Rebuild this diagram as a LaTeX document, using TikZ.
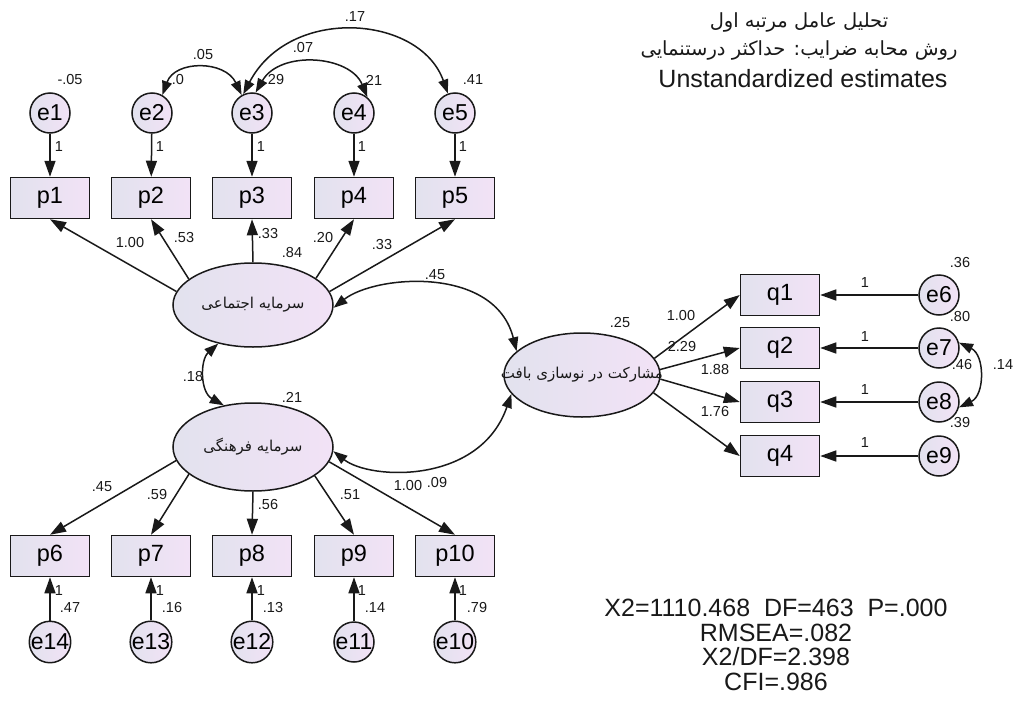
\documentclass[tikz,border=0pt]{standalone}
\usepackage{fontspec}
\setmainfont{Liberation Sans}
\newfontfamily\arabicfont[Script=Arabic]{DejaVu Sans}
\TeXXeTstate=1
\usetikzlibrary{arrows.meta,shapes.geometric}
\definecolor{boxL}{RGB}{226,226,238}
\definecolor{boxR}{RGB}{242,226,246}
\definecolor{ink}{RGB}{25,25,25}
\begin{document}
\begin{tikzpicture}[x=1pt,y=-1pt,
 obs/.style={draw=ink,line width=1.5pt,minimum width=79pt,minimum height=41pt,inner sep=0pt,left color=boxL,right color=boxR,font=\fontsize{23.5}{23.5}\selectfont},
 err/.style={circle,draw=ink,line width=1.5pt,minimum size=40pt,inner sep=0pt,left color=boxL,right color=boxR,font=\fontsize{23}{23}\selectfont},
 lat/.style={ellipse,draw=ink,line width=1.5pt,inner sep=0pt,left color=boxL,right color=boxR},
 lattext/.style={font=\arabicfont\fontsize{15}{15}\selectfont,inner sep=0pt,text=ink},
 lbl/.style={font=\fontsize{14.5}{15}\selectfont,inner sep=0pt,text=ink},
 big/.style={font=\fontsize{25}{24.7}\selectfont,inner sep=0pt,text=ink,align=center},
 ptitle/.style={font=\arabicfont\fontsize{19.5}{19.5}\selectfont,inner sep=0pt,text=ink},
 arr/.style={draw=ink,line width=1.5pt,-{Triangle[length=16pt,width=11pt]}},
 cov/.style={draw=ink,line width=1.5pt,{Triangle[length=14pt,width=10pt]}-{Triangle[length=14pt,width=10pt]}},
]
\useasboundingbox[fill=white] (0,0) rectangle (1013,707);

% titles
\node[ptitle] (title1) at (799,22) {\beginR تحلیل عامل مرتبه اول\endR};
\node[ptitle] (title2) at (799,50) {\beginR روش محابه ضرایب: حداکثر درستنمایی\endR};
\node[big] (title3) at (803,79) {Unstandardized estimates};
\node[big] (stats) at (776,645) {X2=1110.468\ \ DF=463\ \ P=.000\\RMSEA=.082\\X2/DF=2.398\\CFI=.986};

% latent variables
\node[lat,minimum width=160pt,minimum height=84pt] (s1) at (253,305) {};
\node[lattext] (t1) at (253,305) {\beginR سرمایه اجتماعی\endR};
\node[lat,minimum width=160pt,minimum height=88pt] (s2) at (253,447) {};
\node[lattext] (t2) at (253,447) {\beginR سرمایه فرهنگی\endR};
\node[lat,minimum width=156pt,minimum height=84pt] (s3) at (582,375) {};
\node[lattext] (t3) at (582,375) {\beginR مشارکت در نوسازی بافت\endR};

% top indicators
\node[err] (e1) at (50,113) {e1};
\node[err] (e2) at (152,113) {e2};
\node[err] (e3) at (252,113) {e3};
\node[err] (e4) at (354,113) {e4};
\node[err] (e5) at (455,113) {e5};
\node[obs] (p1) at (50,198) {p1};
\node[obs] (p2) at (151,198) {p2};
\node[obs] (p3) at (252,198) {p3};
\node[obs] (p4) at (354,198) {p4};
\node[obs] (p5) at (455,198) {p5};

% bottom indicators
\node[obs] (p6) at (50,556) {p6};
\node[obs] (p7) at (151,556) {p7};
\node[obs] (p8) at (252,556) {p8};
\node[obs] (p9) at (354,556) {p9};
\node[obs] (p10) at (455,556) {p10};
\node[err] (e14) at (50,642) {e14};
\node[err] (e13) at (151,642) {e13};
\node[err] (e12) at (252,642) {e12};
\node[err] (e11) at (354,642) {e11};
\node[err] (e10) at (455,642) {e10};

% right indicators
\node[obs] (q1) at (780,295) {q1};
\node[obs] (q2) at (780,348) {q2};
\node[obs] (q3) at (780,402) {q3};
\node[obs] (q4) at (780,456) {q4};
\node[err] (e6) at (939,295) {e6};
\node[err] (e7) at (939,348) {e7};
\node[err] (e8) at (939,402) {e8};
\node[err] (e9) at (939,456) {e9};

% labels
\node[lbl] (v1) at (70,80) {-.05};
\node[lbl] (v2) at (178,80) {.0};
\node[lbl] (v3) at (274,80) {.29};
\node[lbl] (v4) at (372,80) {.21};
\node[lbl] (v5) at (473,80) {.41};
\node[lbl] (c23) at (203,55) {.05};
\node[lbl] (c34) at (303,48) {.07};
\node[lbl] (c35) at (355,17) {.17};
\node[lbl] (w1) at (59,147) {1};
\node[lbl] (w2) at (160,147) {1};
\node[lbl] (w3) at (261,147) {1};
\node[lbl] (w4) at (362,147) {1};
\node[lbl] (w5) at (463,147) {1};
\node[lbl] (l1) at (130,243) {1.00};
\node[lbl] (l2) at (184,238) {.53};
\node[lbl] (l3) at (268,234) {.33};
\node[lbl] (l4) at (323,238) {.20};
\node[lbl] (l5) at (382,245) {.33};
\node[lbl] (vs1) at (292,253) {.84};
\node[lbl] (c13) at (435,275) {.45};
\node[lbl] (c12) at (193,377) {.18};
\node[lbl] (vs2) at (292,397) {.21};
\node[lbl] (vs3) at (620,323) {.25};
\node[lbl] (m1) at (681,316) {1.00};
\node[lbl] (m2) at (682,347) {2.29};
\node[lbl] (m3) at (715,370) {1.88};
\node[lbl] (m4) at (715,412) {1.76};
\node[lbl] (w6) at (865,283) {1};
\node[lbl] (w7) at (865,337) {1};
\node[lbl] (w8) at (865,390) {1};
\node[lbl] (w9) at (865,443) {1};
\node[lbl] (v6) at (960,263) {.36};
\node[lbl] (v7) at (960,317) {.80};
\node[lbl] (v8) at (962,365) {.46};
\node[lbl] (v9) at (960,423) {.39};
\node[lbl] (c78) at (1003,365) {.14};
\node[lbl] (k6) at (102,487) {.45};
\node[lbl] (k7) at (157,495) {.59};
\node[lbl] (k8) at (268,505) {.56};
\node[lbl] (k9) at (350,495) {.51};
\node[lbl] (k10) at (408,486) {1.00};
\node[lbl] (c23b) at (437,483) {.09};
\node[lbl] (w14) at (59,591) {1};
\node[lbl] (w13) at (160,591) {1};
\node[lbl] (w12) at (261,591) {1};
\node[lbl] (w11) at (362,591) {1};
\node[lbl] (w10) at (463,591) {1};
\node[lbl] (v14) at (70,608) {.47};
\node[lbl] (v13) at (172,608) {.16};
\node[lbl] (v12) at (273,608) {.13};
\node[lbl] (v11) at (375,608) {.14};
\node[lbl] (v10) at (477,608) {.79};

% error paths
\draw[arr] (e1) -- (p1);
\draw[arr] (e2) -- (p2);
\draw[arr] (e3) -- (p3);
\draw[arr] (e4) -- (p4);
\draw[arr] (e5) -- (p5);
\draw[arr] (e14) -- (p6);
\draw[arr] (e13) -- (p7);
\draw[arr] (e12) -- (p8);
\draw[arr] (e11) -- (p9);
\draw[arr] (e10) -- (p10);
\draw[arr] (e6) -- (q1);
\draw[arr] (e7) -- (q2);
\draw[arr] (e8) -- (q3);
\draw[arr] (e9) -- (q4);

% loadings
\draw[arr] (s1.170) -- (p1.south);
\draw[arr] (s1.158) -- (p2.south);
\draw[arr] (s1.north) -- (p3.south);
\draw[arr] (s1.23) -- (p4.south);
\draw[arr] (s1.10) -- (p5.south);
\draw[arr] (s2.190) -- (p6.north);
\draw[arr] (s2.203) -- (p7.north);
\draw[arr] (s2.south) -- (p8.north);
\draw[arr] (s2.335) -- (p9.north);
\draw[arr] (s2.349) -- (p10.north);
\draw[arr] (s3.13) -- (q1.west);
\draw[arr] (s3.4) -- (q2.west);
\draw[arr] (s3.357) -- (q3.west);
\draw[arr] (s3.346) -- (q4.west);

% covariances
\draw[cov] (e2.60) .. controls (175,60) and (225,60) .. (e3.120);
\draw[cov] (e3.80) .. controls (280,50) and (350,55) .. (e4.50);
\draw[cov] (e3.115) .. controls (290,5) and (420,15) .. (e5.110);
\draw[cov] (e7.15) .. controls (985,355) and (985,395) .. (e8.345);
\draw[cov] (s1.228) .. controls (200,360) and (200,392) .. (s2.125);
\draw[cov] (s1.358) .. controls (375,275) and (495,265) .. (s3.160);
\draw[cov] (s2.357) .. controls (370,480) and (480,485) .. (s3.195);
\end{tikzpicture}
\end{document}
